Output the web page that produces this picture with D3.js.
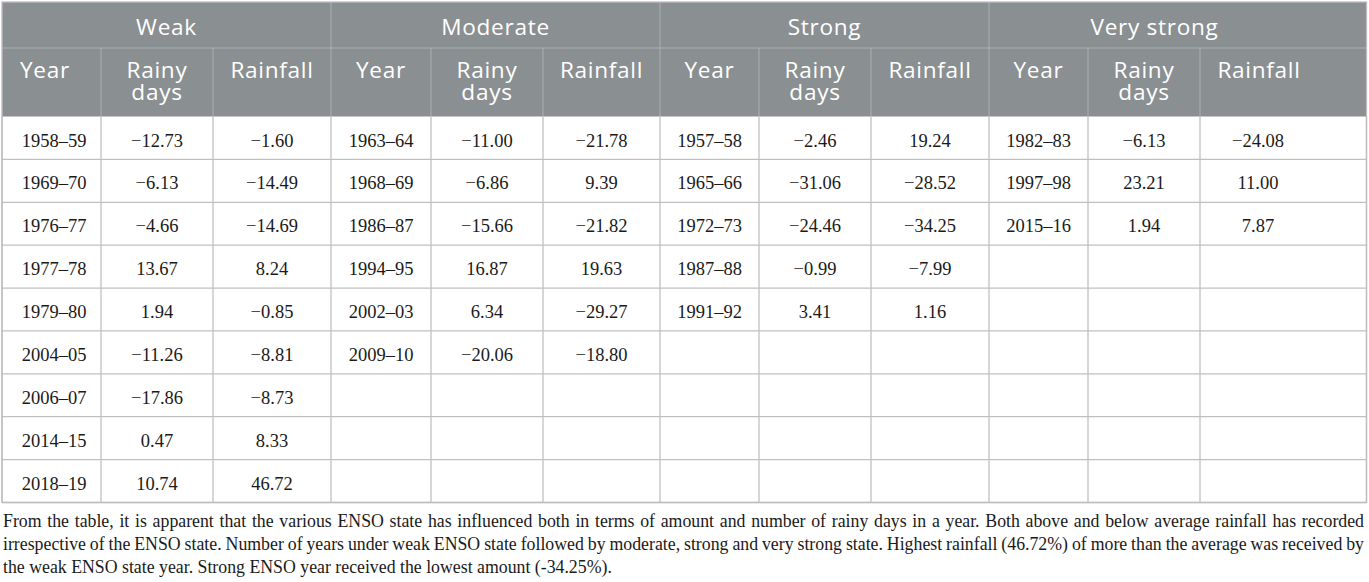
<!DOCTYPE html>
<html>
<head>
<meta charset="utf-8">
<script src="https://cdn.jsdelivr.net/npm/d3@7/dist/d3.min.js"></script>
<style>
  html, body { margin: 0; padding: 0; background: #ffffff; }
  svg { display: block; }
</style>
</head>
<body>
<svg id="chart" width="1369" height="582"></svg>
<script>
// ---------- DATA ----------
const groups = ["Weak", "Moderate", "Strong", "Very strong"];
const subHeaders = [["Year"], ["Rainy", "days"], ["Rainfall"]];

const weakYears    = ["1958–59", "1969–70", "1976–77", "1977–78", "1979–80", "2004–05", "2006–07", "2014–15", "2018–19"];
const weakRainy    = [-12.73, -6.13, -4.66, 13.67, 1.94, -11.26, -17.86, 0.47, 10.74];
const weakRainfall = [-1.60, -14.49, -14.69, 8.24, -0.85, -8.81, -8.73, 8.33, 46.72];

const moderateYears    = ["1963–64", "1968–69", "1986–87", "1994–95", "2002–03", "2009–10"];
const moderateRainy    = [-11.00, -6.86, -15.66, 16.87, 6.34, -20.06];
const moderateRainfall = [-21.78, 9.39, -21.82, 19.63, -29.27, -18.80];

const strongYears    = ["1957–58", "1965–66", "1972–73", "1987–88", "1991–92"];
const strongRainy    = [-2.46, -31.06, -24.46, -0.99, 3.41];
const strongRainfall = [19.24, -28.52, -34.25, -7.99, 1.16];

const veryStrongYears    = ["1982–83", "1997–98", "2015–16"];
const veryStrongRainy    = [-6.13, 23.21, 1.94];
const veryStrongRainfall = [-24.08, 11.00, 7.87];

const captionLines = [
  "From the table, it is apparent that the various ENSO state has influenced both in terms of amount and number of rainy days in a year. Both above and below average rainfall has recorded",
  "irrespective of the ENSO state. Number of years under weak ENSO state followed by moderate, strong and very strong state. Highest rainfall (46.72%) of more than the average was received by",
  "the weak ENSO state year. Strong ENSO year received the lowest amount (-34.25%)."
];

// ---------- LAYOUT ----------
const groupData = [
  [weakYears, weakRainy, weakRainfall],
  [moderateYears, moderateRainy, moderateRainfall],
  [strongYears, strongRainy, strongRainfall],
  [veryStrongYears, veryStrongRainy, veryStrongRainfall]
];
const nRows = d3.max(groupData, g => g[0].length);

const colEdges = [2, 101, 213, 331, 431, 543, 660, 759, 871, 989, 1088, 1200, 1366.5];
const nCols = colEdges.length - 1;
const colLeft = d3.scaleOrdinal().domain(d3.range(nCols + 1)).range(colEdges);
const colCenter = i => (colLeft(i) + colLeft(i + 1)) / 2;
// the last column's text sits as if the column ended at ~1320
const lastTextRight = 1320;
const dataCenter = i => i === 0 ? 54 : (i === nCols - 1 ? 1258 : colCenter(i));
const headCenter = i => i === 0 ? 45 : (i === nCols - 1 ? 1259 : colCenter(i));
const groupCenter = gi => gi === groups.length - 1
  ? (colLeft(gi * 3) + lastTextRight) / 2
  : (colLeft(gi * 3) + colLeft(gi * 3 + 3)) / 2;

const top0 = 2, head1Bottom = 48, head2Bottom = 116.5, tableBottom = 502.5;
const y = d3.scaleLinear().domain([0, nRows]).range([head2Bottom, tableBottom]);

const fmt = d3.format(".2f");
const headerFill = "#8a8f92";
const headerLine = "#abafb1";
const gridLine = "#c0c0c0";

const svg = d3.select("#chart");

// header background
svg.append("rect")
  .attr("x", colLeft(0)).attr("y", top0)
  .attr("width", colLeft(nCols) - colLeft(0))
  .attr("height", head2Bottom - top0)
  .attr("fill", headerFill);

// header lines
const hl = svg.append("g").attr("stroke", headerLine).attr("stroke-width", 1);
hl.append("line")
  .attr("x1", colLeft(0)).attr("x2", colLeft(nCols))
  .attr("y1", head1Bottom).attr("y2", head1Bottom);
groups.forEach((g, gi) => {
  if (gi > 0) {
    hl.append("line")
      .attr("x1", colLeft(gi * 3)).attr("x2", colLeft(gi * 3))
      .attr("y1", top0).attr("y2", head2Bottom);
  }
  [1, 2].forEach(k => {
    hl.append("line")
      .attr("x1", colLeft(gi * 3 + k)).attr("x2", colLeft(gi * 3 + k))
      .attr("y1", head1Bottom).attr("y2", head2Bottom);
  });
});

// header text
const headFont = "'Open Sans', 'Noto Sans', sans-serif";
const headSize = 22.6, headLS = 0.7;
svg.append("g").selectAll("text")
  .data(groups)
  .join("text")
  .attr("x", (d, i) => groupCenter(i))
  .attr("y", 35)
  .attr("text-anchor", "middle")
  .attr("fill", "#ffffff")
  .attr("font-family", headFont)
  .attr("font-size", headSize)
  .attr("letter-spacing", headLS)
  .text(d => d);

const subG = svg.append("g");
d3.range(nCols).forEach(ci => {
  const lines = subHeaders[ci % 3];
  lines.forEach((ln, li) => {
    subG.append("text")
      .attr("x", headCenter(ci))
      .attr("y", 78 + li * 22)
      .attr("text-anchor", "middle")
      .attr("fill", "#ffffff")
      .attr("font-family", headFont)
      .attr("font-size", headSize)
      .attr("letter-spacing", headLS)
      .text(ln);
  });
});

// body grid
const gl = svg.append("g").attr("stroke", gridLine).attr("stroke-width", 1.3).attr("fill", "none");
d3.range(1, nRows + 1).forEach(r => {
  gl.append("line")
    .attr("x1", colLeft(0)).attr("x2", colLeft(nCols))
    .attr("y1", y(r)).attr("y2", y(r));
});
d3.range(0, nCols + 1).forEach(c => {
  gl.append("line")
    .attr("x1", colLeft(c)).attr("x2", colLeft(c))
    .attr("y1", head2Bottom).attr("y2", tableBottom);
});
gl.append("rect")
  .attr("x", colLeft(0)).attr("y", top0)
  .attr("width", colLeft(nCols) - colLeft(0))
  .attr("height", tableBottom - top0)
  .attr("stroke", "#bdbdbd");

// body cells
const cells = [];
groupData.forEach((g, gi) => {
  g.forEach((col, k) => {
    col.forEach((v, r) => {
      cells.push({ c: gi * 3 + k, r: r, text: k === 0 ? v : fmt(v) });
    });
  });
});
svg.append("g").selectAll("text")
  .data(cells)
  .join("text")
  .attr("x", d => dataCenter(d.c))
  .attr("y", d => y(d.r) + 30)
  .attr("text-anchor", "middle")
  .attr("fill", "#1a1a1a")
  .attr("font-family", "'Liberation Serif', 'Times New Roman', serif")
  .attr("font-size", 18.5)
  .text(d => d.text);

// caption (justified lines)
const capLeft = 3, capRight = 1364;
const capG = svg.append("g")
  .attr("font-family", "'Liberation Serif', 'Times New Roman', serif")
  .attr("font-size", 17.8)
  .attr("fill", "#1a1a1a");
captionLines.forEach((ln, i) => {
  const t = capG.append("text")
    .attr("x", capLeft)
    .attr("y", 527 + i * 23)
    .text(ln);
  if (i < captionLines.length - 1) {
    const w = t.node().getComputedTextLength();
    const spaces = (ln.match(/ /g) || []).length;
    const ws = (capRight - capLeft - w) / spaces;
    t.attr("word-spacing", ws);
  }
});
</script>
</body>
</html>
